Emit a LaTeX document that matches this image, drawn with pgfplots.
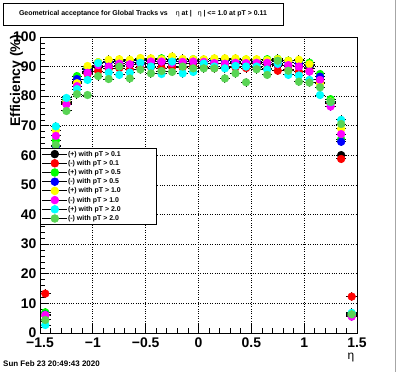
\documentclass[border=0pt]{standalone}
\usepackage{pgfplots}
\pgfplotsset{compat=1.18}
\usepackage{pgfplotstable}
\usepackage{fontspec}
\setmainfont{Liberation Sans}
\definecolor{rgreen}{RGB}{0,255,0}
\definecolor{rblue}{RGB}{0,0,255}
\definecolor{ryellow}{RGB}{255,255,0}
\definecolor{rmagenta}{RGB}{255,0,255}
\definecolor{rcyan}{RGB}{0,255,255}
\definecolor{rlgreen}{RGB}{89,212,84}
\definecolor{rred}{RGB}{255,0,0}

\pgfplotstableread{
x y
-1.45 6.0
-1.35 60.8
-1.25 78.0
-1.15 85.0
-1.05 88.5
-0.95 89.8
-0.85 90.2
-0.75 90.5
-0.65 90.8
-0.55 91.0
-0.45 91.0
-0.35 91.2
-0.25 91.0
-0.15 91.2
-0.05 91.0
0.05 91.2
0.15 91.0
0.25 91.1
0.35 91.0
0.45 90.8
0.55 91.0
0.65 90.8
0.75 90.5
0.85 90.3
0.95 90.0
1.05 89.5
1.15 85.5
1.25 77.8
1.35 60.1
1.45 6.0
}\dblack
\pgfplotstableread{
x y
-1.45 13.3
-1.35 59.0
-1.25 77.5
-1.15 84.5
-1.05 87.5
-0.95 88.5
-0.85 89.2
-0.75 89.5
-0.65 89.0
-0.55 89.6
-0.45 89.8
-0.35 89.5
-0.25 89.8
-0.15 89.7
-0.05 90.0
0.05 89.8
0.15 89.5
0.25 89.8
0.35 89.7
0.45 89.5
0.55 89.6
0.65 89.3
0.75 88.6
0.85 89.0
0.95 88.3
1.05 88.5
1.15 84.5
1.25 77.5
1.35 58.8
1.45 12.3
}\dred
\pgfplotstableread{
x y
-1.45 7.0
-1.35 65.0
-1.25 78.8
-1.15 86.8
-1.05 89.5
-0.95 91.5
-0.85 91.8
-0.75 92.0
-0.65 92.0
-0.55 92.3
-0.45 92.5
-0.35 92.8
-0.25 92.5
-0.15 92.3
-0.05 92.5
0.05 92.3
0.15 92.6
0.25 92.3
0.35 92.5
0.45 92.4
0.55 92.3
0.65 92.5
0.75 92.6
0.85 92.0
0.95 92.0
1.05 91.3
1.15 87.5
1.25 79.0
1.35 65.5
1.45 6.5
}\dgreen
\pgfplotstableread{
x y
-1.45 6.2
-1.35 63.0
-1.25 78.2
-1.15 85.8
-1.05 89.0
-0.95 91.0
-0.85 91.5
-0.75 91.8
-0.65 91.5
-0.55 92.0
-0.45 92.0
-0.35 91.8
-0.25 92.0
-0.15 91.8
-0.05 92.0
0.05 91.8
0.15 92.0
0.25 92.0
0.35 91.8
0.45 92.0
0.55 91.8
0.65 91.5
0.75 91.8
0.85 91.5
0.95 91.0
1.05 90.5
1.15 86.6
1.25 78.0
1.35 64.6
1.45 6.0
}\dblue
\pgfplotstableread{
x y
-1.45 6.0
-1.35 68.5
-1.25 78.3
-1.15 84.4
-1.05 90.2
-0.95 91.5
-0.85 92.3
-0.75 92.5
-0.65 92.3
-0.55 92.9
-0.45 92.8
-0.35 92.5
-0.25 93.4
-0.15 92.6
-0.05 92.5
0.05 92.5
0.15 92.8
0.25 92.8
0.35 92.8
0.45 92.5
0.55 92.5
0.65 92.2
0.75 92.5
0.85 92.0
0.95 92.3
1.05 90.8
1.15 84.3
1.25 78.2
1.35 69.0
1.45 6.0
}\dyellow
\pgfplotstableread{
x y
-1.45 6.0
-1.35 66.6
-1.25 77.2
-1.15 83.4
-1.05 87.9
-0.95 90.5
-0.85 90.0
-0.75 91.0
-0.65 90.8
-0.55 90.8
-0.45 91.7
-0.35 91.7
-0.25 91.2
-0.15 91.6
-0.05 91.7
0.05 91.6
0.15 91.2
0.25 91.0
0.35 91.3
0.45 91.2
0.55 91.3
0.65 91.3
0.75 90.8
0.85 90.5
0.95 90.0
1.05 88.3
1.15 85.5
1.25 76.5
1.35 67.2
1.45 5.5
}\dmagenta
\pgfplotstableread{
x y
-1.45 2.7
-1.35 69.8
-1.25 79.4
-1.15 82.4
-1.05 85.5
-0.95 91.2
-0.85 88.0
-0.75 87.2
-0.65 88.0
-0.55 91.3
-0.45 90.0
-0.35 87.5
-0.25 91.7
-0.15 87.7
-0.05 88.2
0.05 91.0
0.15 90.0
0.25 89.4
0.35 90.2
0.45 90.0
0.55 90.0
0.65 89.0
0.75 91.0
0.85 87.2
0.95 87.0
1.05 85.5
1.15 80.4
1.25 78.0
1.35 72.0
1.45 6.8
}\dcyan
\pgfplotstableread{
x y
-1.45 4.4
-1.35 63.5
-1.25 75.0
-1.15 80.7
-1.05 80.4
-0.95 86.8
-0.85 85.8
-0.75 90.0
-0.65 86.0
-0.55 89.0
-0.45 87.7
-0.35 88.5
-0.25 88.2
-0.15 90.0
-0.05 89.4
0.05 89.4
0.15 89.4
0.25 86.0
0.35 87.7
0.45 84.7
0.55 89.1
0.65 87.2
0.75 92.0
0.85 88.6
0.95 84.9
1.05 84.6
1.15 83.0
1.25 78.1
1.35 70.6
1.45 6.3
}\dlgreen

\pgfplotsset{
  rootpt/.style={only marks, mark=*, mark size=3.9bp,
    mark options={draw=#1, fill=#1},
    error bars/x dir=both, error bars/x fixed=0.05,
    error bars/y dir=both, error bars/y fixed=1.5,
    error bars/error bar style={black, line width=1bp},
    error bars/error mark=none},
}
\newcommand{\legtxt}[1]{\makebox[86bp][l]{#1}}

\begin{document}
\begin{tikzpicture}
\useasboundingbox (0,0) rectangle (396bp,372bp);
\begin{axis}[
  at={(40bp,39bp)}, anchor=south west,
  scale only axis, width=317bp, height=296bp,
  xmin=-1.5, xmax=1.5, ymin=0, ymax=100,
  axis line style={black, line width=0.8bp},
  tick pos=left, tick align=inside,
  major tick length=9bp, minor tick length=4.5bp,
  every tick/.style={black, line width=0.7bp},
  xtick={-1.5,-1,-0.5,0,0.5,1,1.5},
  xticklabels={−1.5,−1,−0.5,0,0.5,1,1.5},
  minor x tick num=4,
  ytick={0,10,...,100},
  minor y tick num=4,
  /pgf/number format/assume math mode=true,
  ticklabel style={font=\fontsize{14}{14}\selectfont\bfseries},
  xticklabel style={yshift=-1bp},
  grid=major,
  major grid style={black, dotted, line width=0.7bp},
  legend style={at={(rel axis cs:0,0.625)}, anchor=north west,
    draw=black, line width=0.6bp, fill=white,
    font=\fontsize{7}{7}\selectfont\bfseries,
    inner xsep=1bp, inner ysep=1.5bp, row sep=0.6bp,
    nodes={inner sep=0.8bp, text height=5.5bp, text depth=1.5bp}},
  legend cell align=left,
  legend image code/.code={
    \draw[black, line width=1bp] (0bp,0bp) -- (25bp,0bp);
    \draw[black, line width=0.8bp] (13bp,-3.5bp) -- (13bp,3.5bp);
    \draw[mark repeat=2, mark phase=2, #1, mark size=3.9bp] plot coordinates {(0bp,0bp) (13bp,0bp) (25bp,0bp)};
  },
]
\addplot[rootpt=black] table {\dblack};
\addlegendentry{\legtxt{(+) with pT > 0.1}}
\addplot[rootpt=rred] table {\dred};
\addlegendentry{\legtxt{(-) with pT > 0.1}}
\addplot[rootpt=rgreen] table {\dgreen};
\addlegendentry{\legtxt{(+) with pT > 0.5}}
\addplot[rootpt=rblue] table {\dblue};
\addlegendentry{\legtxt{(-) with pT > 0.5}}
\addplot[rootpt=ryellow] table {\dyellow};
\addlegendentry{\legtxt{(+) with pT > 1.0}}
\addplot[rootpt=rmagenta] table {\dmagenta};
\addlegendentry{\legtxt{(-) with pT > 1.0}}
\addplot[rootpt=rcyan] table {\dcyan};
\addlegendentry{\legtxt{(+) with pT > 2.0}}
\addplot[rootpt=rlgreen] table {\dlgreen};
\addlegendentry{\legtxt{(-) with pT > 2.0}}
\end{axis}
\node[rotate=90, anchor=base east, font=\fontsize{14}{14}\selectfont\bfseries, inner sep=0pt] at (20bp,337bp) {Efficiency (\%)};
\node[font=\fontsize{12}{12}\selectfont, inner sep=0pt] at (351bp,14bp) {η};
\node[anchor=base west, font=\fontsize{8}{8}\selectfont\bfseries, inner sep=0pt] at (3bp,6bp) {Sun Feb 23 20:49:43 2020};
\draw[black, line width=0.8bp, fill=white] (3bp,347bp) rectangle (283bp,369bp);
\node[font=\fontsize{7}{7}\selectfont\bfseries, inner sep=0pt] at (143bp,358bp) {Geometrical acceptance for Global Tracks vs\hspace{8bp}{\mdseries η} at |\hspace{6bp}{\mdseries η} | <= 1.0 at pT > 0.11};
\draw[gray!70, line width=1bp] (395bp,0bp) -- (395bp,372bp);
\end{tikzpicture}
\end{document}
